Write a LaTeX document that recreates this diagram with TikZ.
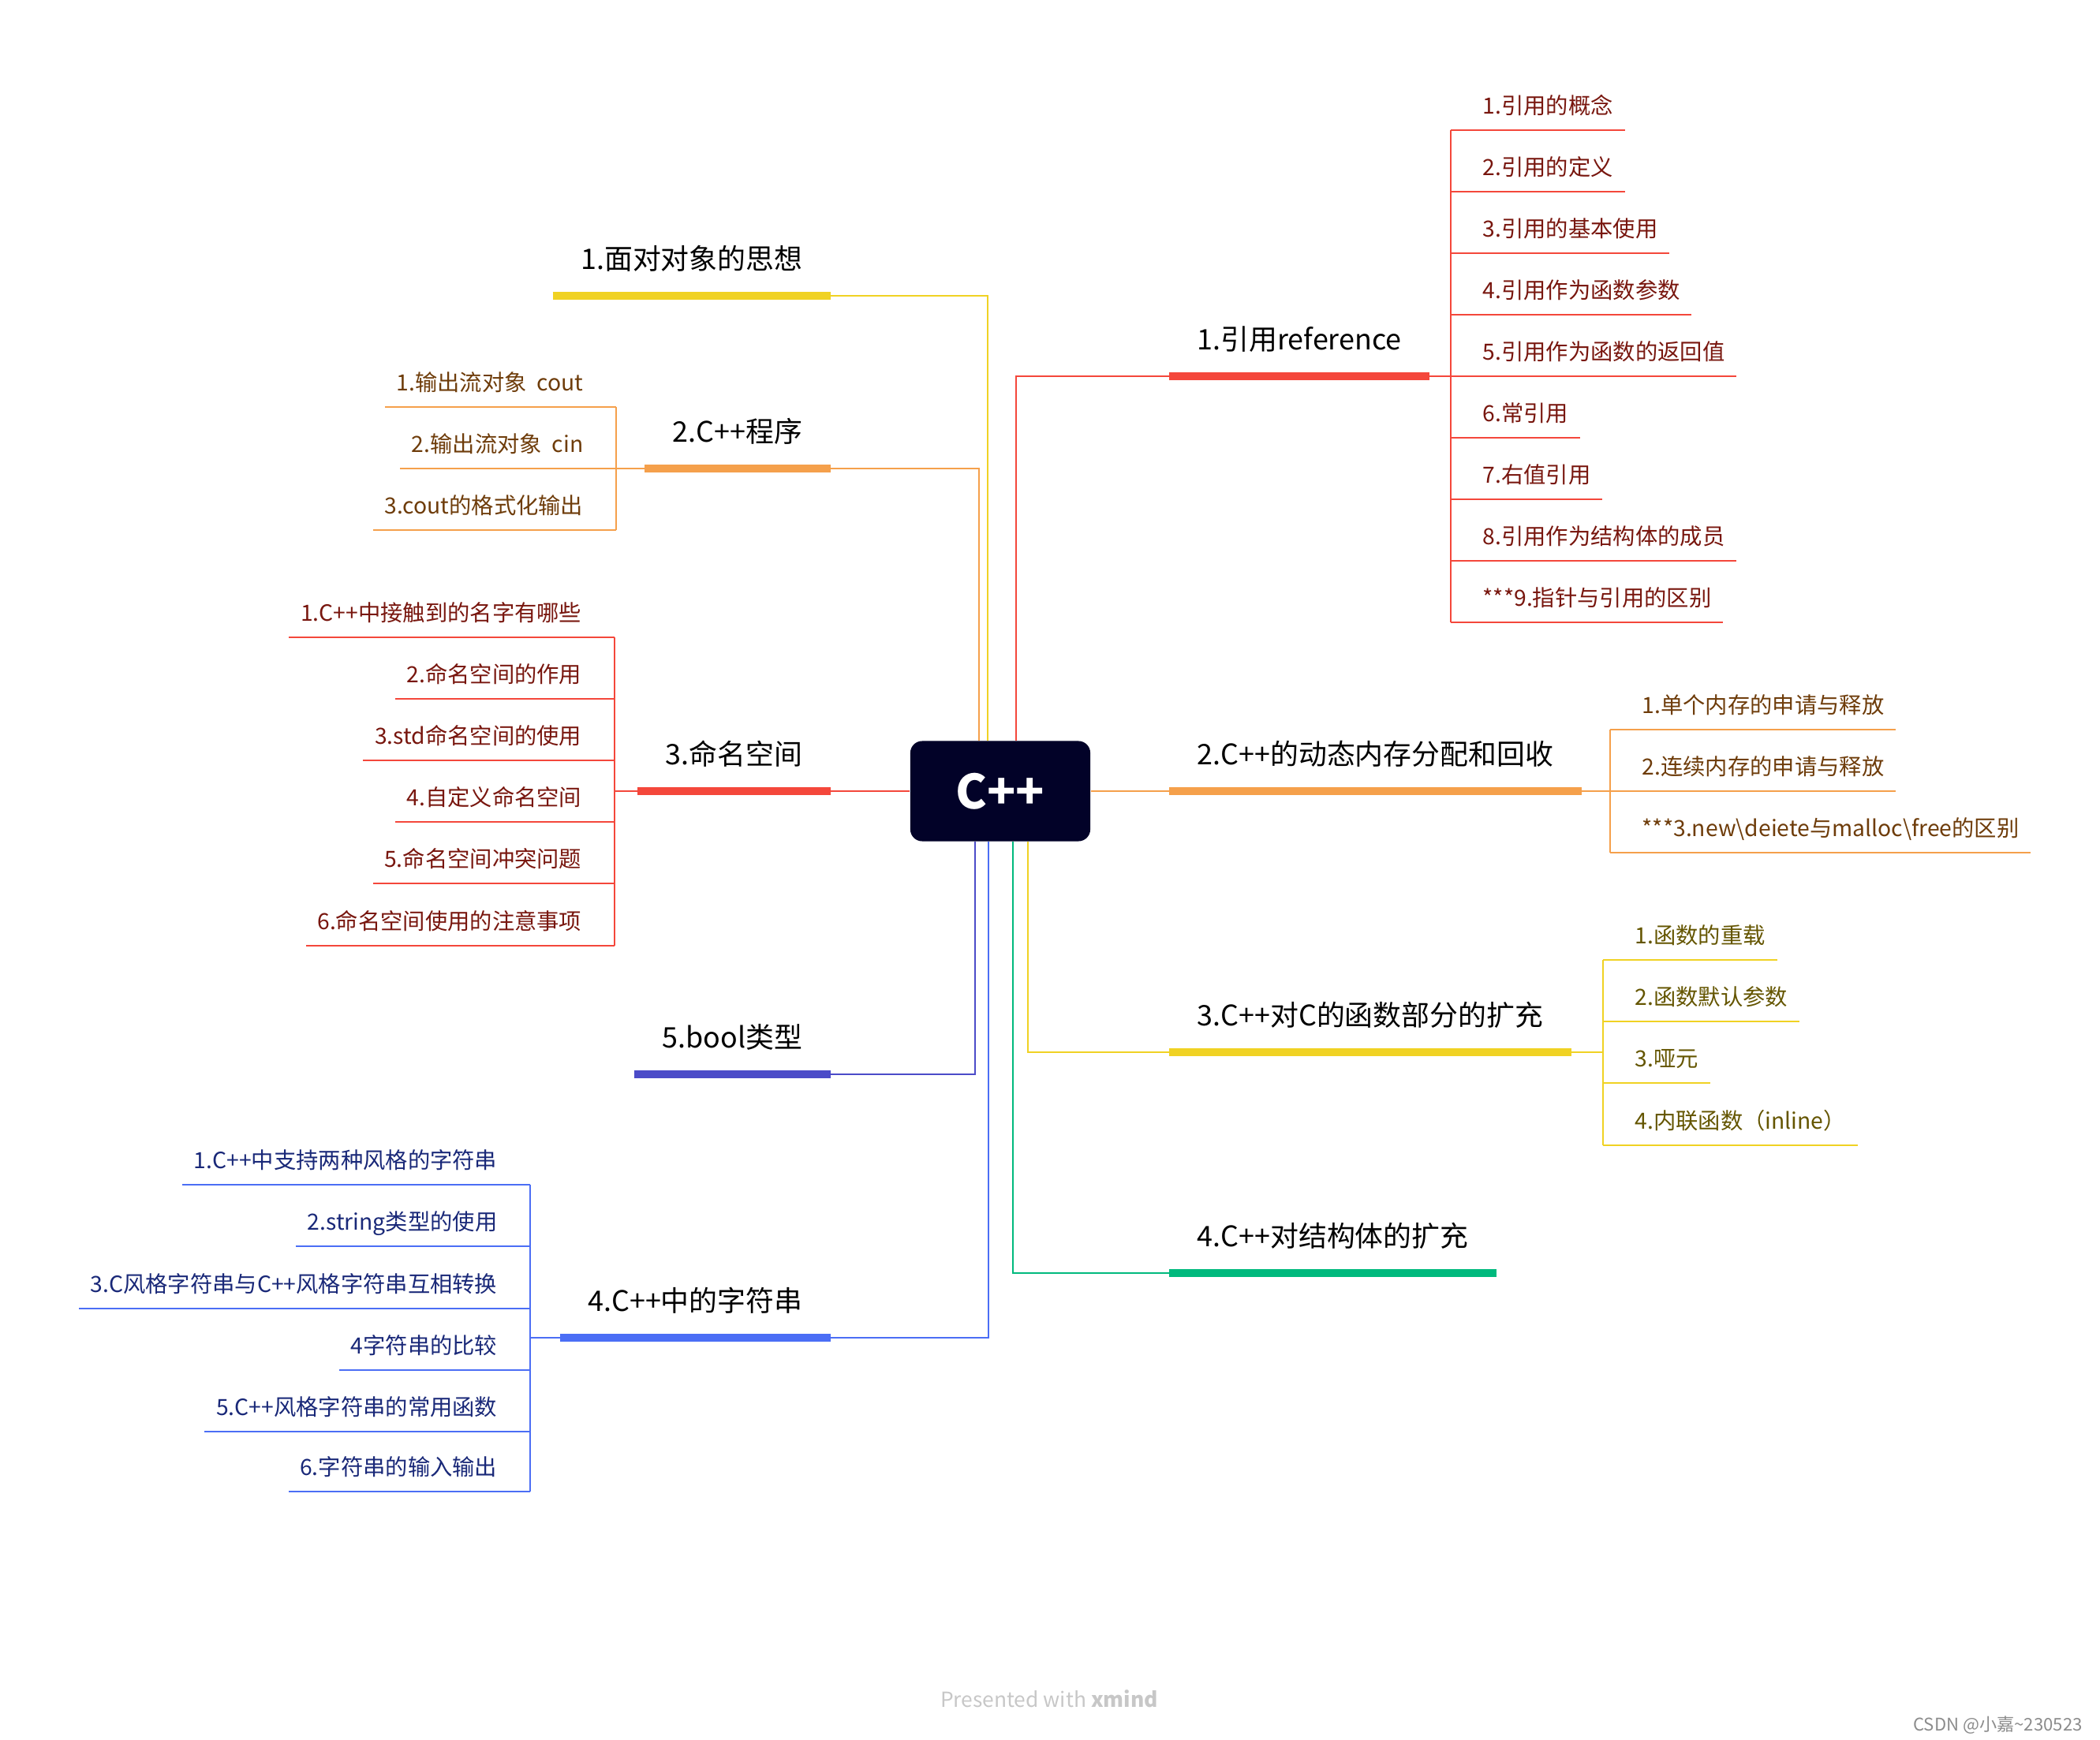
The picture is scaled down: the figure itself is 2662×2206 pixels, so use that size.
\documentclass[tikz,border=0pt]{standalone}
\usepackage{fontspec}
\setmainfont{Noto Sans CJK SC}
\usepackage{tikz}
\pgfdeclarelayer{nodelayer}
\pgfdeclarelayer{edgelayer}
\pgfsetlayers{edgelayer,nodelayer,main}
\definecolor{rootfill}{RGB}{2,2,40}
\definecolor{mred}{RGB}{244,71,59}
\definecolor{morange}{RGB}{245,160,75}
\definecolor{myellow}{RGB}{240,210,35}
\definecolor{mgreen}{RGB}{0,185,125}
\definecolor{mblue}{RGB}{75,110,245}
\definecolor{mindigo}{RGB}{75,75,200}
\definecolor{redtext}{RGB}{120,22,14}
\definecolor{orangetext}{RGB}{110,60,10}
\definecolor{yellowtext}{RGB}{100,85,0}
\definecolor{bluetext}{RGB}{25,40,120}
\tikzstyle{root}=[fill=rootfill, text=white, rounded corners=0.15cm, minimum width=2.28cm, minimum height=1.27cm, font=\fontsize{17}{20}\selectfont\bfseries]
\tikzstyle{title}=[inner xsep=0.35cm, inner ysep=0.28cm, text height=0.3cm, text depth=0.05cm, font=\fontsize{10.2}{12}\selectfont]
\tikzstyle{item}=[inner xsep=0.14cm, inner ysep=0.15cm, text height=0.25cm, text depth=0.05cm, font=\fontsize{8.05}{10}\selectfont]
\tikzstyle{red edge}=[draw=mred, line width=0.6pt]
\tikzstyle{orange edge}=[draw=morange, line width=0.6pt]
\tikzstyle{yellow edge}=[draw=myellow, line width=0.6pt]
\tikzstyle{green edge}=[draw=mgreen, line width=0.6pt]
\tikzstyle{blue edge}=[draw=mblue, line width=0.6pt]
\tikzstyle{indigo edge}=[draw=mindigo, line width=0.6pt]
\tikzstyle{red bar}=[draw=mred, line width=2.6pt]
\tikzstyle{orange bar}=[draw=morange, line width=2.6pt]
\tikzstyle{yellow bar}=[draw=myellow, line width=2.6pt]
\tikzstyle{green bar}=[draw=mgreen, line width=2.6pt]
\tikzstyle{blue bar}=[draw=mblue, line width=2.6pt]
\tikzstyle{indigo bar}=[draw=mindigo, line width=2.6pt]
\begin{document}
\begin{tikzpicture}[x=0.01cm, y=-0.01cm]
	\useasboundingbox (0,0) rectangle (2662,2206);
	\begin{pgfonlayer}{nodelayer}
		\node [style=root] (0) at (1268, 1003) {C++};
		% left side
		\node [style=title, anchor=south east] (1) at (1053, 375) {1.面对对象的思想};
		\node [style=title, anchor=south east] (2) at (1053, 594) {2.C++程序};
		\node [style=title, anchor=south east] (3) at (1053, 1003) {3.命名空间};
		\node [style=title, anchor=south east] (4) at (1053, 1362) {5.bool类型};
		\node [style=title, anchor=south east] (5) at (1053, 1696) {4.C++中的字符串};
		% right side
		\node [style=title, anchor=south west] (6) at (1482, 477) {1.引用reference};
		\node [style=title, anchor=south west] (7) at (1482, 1003) {2.C++的动态内存分配和回收};
		\node [style=title, anchor=south west] (8) at (1482, 1334) {3.C++对C的函数部分的扩充};
		\node [style=title, anchor=south west] (9) at (1482, 1614) {4.C++对结构体的扩充};
		\coordinate (20) at (781, 594);
		\node [style=item, text=orangetext, anchor=south east] (21) at (754, 516) {1.输出流对象~~cout};
		\node [style=item, text=orangetext, anchor=south east] (22) at (754, 594) {2.输出流对象~~cin};
		\node [style=item, text=orangetext, anchor=south east] (23) at (754, 672) {3.cout的格式化输出};
		\coordinate (30) at (779, 1003);
		\node [style=item, text=redtext, anchor=south east] (31) at (752, 808) {1.C++中接触到的名字有哪些};
		\node [style=item, text=redtext, anchor=south east] (32) at (752, 886) {2.命名空间的作用};
		\node [style=item, text=redtext, anchor=south east] (33) at (752, 964) {3.std命名空间的使用};
		\node [style=item, text=redtext, anchor=south east] (34) at (752, 1042) {4.自定义命名空间};
		\node [style=item, text=redtext, anchor=south east] (35) at (752, 1120) {5.命名空间冲突问题};
		\node [style=item, text=redtext, anchor=south east] (36) at (752, 1199) {6.命名空间使用的注意事项};
		\coordinate (50) at (672, 1696);
		\node [style=item, text=bluetext, anchor=south east] (51) at (645, 1502) {1.C++中支持两种风格的字符串};
		\node [style=item, text=bluetext, anchor=south east] (52) at (645, 1580) {2.string类型的使用};
		\node [style=item, text=bluetext, anchor=south east] (53) at (645, 1659) {3.C风格字符串与C++风格字符串互相转换};
		\node [style=item, text=bluetext, anchor=south east] (54) at (645, 1737) {4字符串的比较};
		\node [style=item, text=bluetext, anchor=south east] (55) at (645, 1815) {5.C++风格字符串的常用函数};
		\node [style=item, text=bluetext, anchor=south east] (56) at (645, 1891) {6.字符串的输入输出};
		\coordinate (60) at (1839, 477);
		\node [style=item, text=redtext, anchor=south west] (61) at (1865, 165) {1.引用的概念};
		\node [style=item, text=redtext, anchor=south west] (62) at (1865, 243) {2.引用的定义};
		\node [style=item, text=redtext, anchor=south west] (63) at (1865, 321) {3.引用的基本使用};
		\node [style=item, text=redtext, anchor=south west] (64) at (1865, 399) {4.引用作为函数参数};
		\node [style=item, text=redtext, anchor=south west] (65) at (1865, 477) {5.引用作为函数的返回值};
		\node [style=item, text=redtext, anchor=south west] (66) at (1865, 555) {6.常引用};
		\node [style=item, text=redtext, anchor=south west] (67) at (1865, 633) {7.右值引用};
		\node [style=item, text=redtext, anchor=south west] (68) at (1865, 711) {8.引用作为结构体的成员};
		\node [style=item, text=redtext, anchor=south west] (69) at (1865, 789) {***9.指针与引用的区别};
		\coordinate (70) at (2041, 1003);
		\node [style=item, text=orangetext, anchor=south west] (71) at (2067, 925) {1.单个内存的申请与释放};
		\node [style=item, text=orangetext, anchor=south west] (72) at (2067, 1003) {2.连续内存的申请与释放};
		\node [style=item, text=orangetext, anchor=south west] (73) at (2067, 1081) {***3.new\textbackslash deiete与malloc\textbackslash free的区别};
		\coordinate (80) at (2032, 1334);
		\node [style=item, text=yellowtext, anchor=south west] (81) at (2058, 1217) {1.函数的重载};
		\node [style=item, text=yellowtext, anchor=south west] (82) at (2058, 1295) {2.函数默认参数};
		\node [style=item, text=yellowtext, anchor=south west] (83) at (2058, 1373) {3.哑元};
		\node [style=item, text=yellowtext, anchor=south west] (84) at (2058, 1452) {4.内联函数（inline）};
		\node [text=black!22, font=\fontsize{7.5}{9}\selectfont] (10) at (1330, 2154) {Presented with \textbf{xmind}};
		\node [text=black!45, anchor=east, font=\fontsize{6.3}{8}\selectfont] (11) at (2652, 2187) {CSDN @小嘉\textasciitilde 230523};
	\end{pgfonlayer}
	\begin{pgfonlayer}{edgelayer}
		\draw [style=yellow edge] ([xshift=-0.16cm]0.north) |- (1.south east);
		\draw [style=orange edge] ([xshift=-0.27cm]0.north) |- (2.south east);
		\draw [style=red edge] (0.west) -- (3.south east);
		\draw [style=indigo edge] ([xshift=-0.32cm]0.south) |- (4.south east);
		\draw [style=blue edge] ([xshift=-0.15cm]0.south) |- (5.south east);
		\draw [style=red edge] ([xshift=0.2cm]0.north) |- (6.south west);
		\draw [style=orange edge] (0.east) -- (7.south west);
		\draw [style=yellow edge] ([xshift=0.35cm]0.south) |- (8.south west);
		\draw [style=green edge] ([xshift=0.16cm]0.south) |- (9.south west);
		\draw [style=yellow bar] (1.south west) -- (1.south east);
		\draw [style=orange bar] (2.south west) -- (2.south east);
		\draw [style=red bar] (3.south west) -- (3.south east);
		\draw [style=indigo bar] (4.south west) -- (4.south east);
		\draw [style=blue bar] (5.south west) -- (5.south east);
		\draw [style=red bar] (6.south west) -- (6.south east);
		\draw [style=orange bar] (7.south west) -- (7.south east);
		\draw [style=yellow bar] (8.south west) -- (8.south east);
		\draw [style=green bar] (9.south west) -- (9.south east);
		% 2.C++程序
		\draw [style=orange edge] (2.south west) -- (20);
		\draw [style=orange edge] (20 |- 21.south) -- (20 |- 23.south);
		\draw [style=orange edge] (20 |- 21.south) -- (21.south west);
		\draw [style=orange edge] (20 |- 22.south) -- (22.south west);
		\draw [style=orange edge] (20 |- 23.south) -- (23.south west);
		% 3.命名空间
		\draw [style=red edge] (3.south west) -- (30);
		\draw [style=red edge] (30 |- 31.south) -- (30 |- 36.south);
		\draw [style=red edge] (30 |- 31.south) -- (31.south west);
		\draw [style=red edge] (30 |- 32.south) -- (32.south west);
		\draw [style=red edge] (30 |- 33.south) -- (33.south west);
		\draw [style=red edge] (30 |- 34.south) -- (34.south west);
		\draw [style=red edge] (30 |- 35.south) -- (35.south west);
		\draw [style=red edge] (30 |- 36.south) -- (36.south west);
		% 4.C++中的字符串
		\draw [style=blue edge] (5.south west) -- (50);
		\draw [style=blue edge] (50 |- 51.south) -- (50 |- 56.south);
		\draw [style=blue edge] (50 |- 51.south) -- (51.south west);
		\draw [style=blue edge] (50 |- 52.south) -- (52.south west);
		\draw [style=blue edge] (50 |- 53.south) -- (53.south west);
		\draw [style=blue edge] (50 |- 54.south) -- (54.south west);
		\draw [style=blue edge] (50 |- 55.south) -- (55.south west);
		\draw [style=blue edge] (50 |- 56.south) -- (56.south west);
		% 1.引用reference
		\draw [style=red edge] (6.south east) -- (60);
		\draw [style=red edge] (60 |- 61.south) -- (60 |- 69.south);
		\draw [style=red edge] (60 |- 61.south) -- (61.south east);
		\draw [style=red edge] (60 |- 62.south) -- (62.south east);
		\draw [style=red edge] (60 |- 63.south) -- (63.south east);
		\draw [style=red edge] (60 |- 64.south) -- (64.south east);
		\draw [style=red edge] (60 |- 65.south) -- (65.south east);
		\draw [style=red edge] (60 |- 66.south) -- (66.south east);
		\draw [style=red edge] (60 |- 67.south) -- (67.south east);
		\draw [style=red edge] (60 |- 68.south) -- (68.south east);
		\draw [style=red edge] (60 |- 69.south) -- (69.south east);
		% 2.C++的动态内存分配和回收
		\draw [style=orange edge] (7.south east) -- (70);
		\draw [style=orange edge] (70 |- 71.south) -- (70 |- 73.south);
		\draw [style=orange edge] (70 |- 71.south) -- (71.south east);
		\draw [style=orange edge] (70 |- 72.south) -- (72.south east);
		\draw [style=orange edge] (70 |- 73.south) -- (73.south east);
		% 3.C++对C的函数部分的扩充
		\draw [style=yellow edge] (8.south east) -- (80);
		\draw [style=yellow edge] (80 |- 81.south) -- (80 |- 84.south);
		\draw [style=yellow edge] (80 |- 81.south) -- (81.south east);
		\draw [style=yellow edge] (80 |- 82.south) -- (82.south east);
		\draw [style=yellow edge] (80 |- 83.south) -- (83.south east);
		\draw [style=yellow edge] (80 |- 84.south) -- (84.south east);
	\end{pgfonlayer}
\end{tikzpicture}
\end{document}
